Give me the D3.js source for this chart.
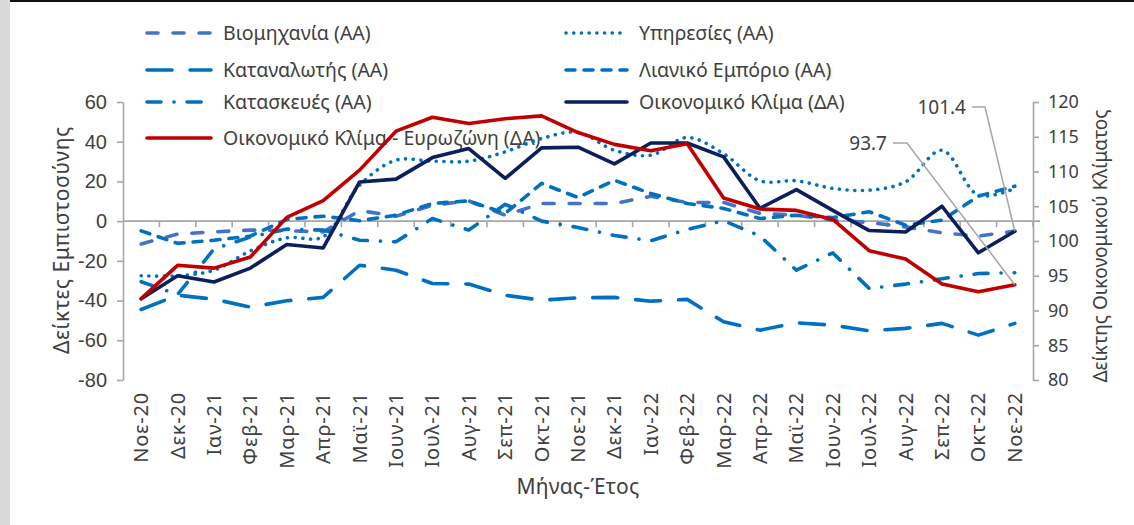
<!DOCTYPE html>
<html><head><meta charset="utf-8">
<script src="https://cdn.jsdelivr.net/npm/d3@7"></script>
<style>body{margin:0;background:#fff}svg{display:block}</style>
</head><body><svg id="c" width="1134" height="525"></svg>
<script>
const categories = ["Νοε-20","Δεκ-20","Ιαν-21","Φεβ-21","Μαρ-21","Απρ-21","Μαϊ-21","Ιουν-21","Ιουλ-21","Αυγ-21","Σεπ-21","Οκτ-21","Νοε-21","Δεκ-21","Ιαν-22","Φεβ-22","Μαρ-22","Απρ-22","Μαϊ-22","Ιουν-22","Ιουλ-22","Αυγ-22","Σεπ-22","Οκτ-22","Νοε-22"];
const industry     = [-11.5,-6.5,-5.4,-4.5,-4.8,-5.4,5.3,2.5,8,10.2,3,8.9,8.9,8.9,12.5,9.4,9.4,3.9,3,0.5,-0.7,-2.9,-5.9,-7.5,-5];
const services     = [-27.5,-27.5,-24.7,-15,-8.4,-7.9,18.1,30.7,30.2,30.2,34.9,41.6,44.7,35.7,33.2,42.1,34,20.3,20.3,16.5,15.6,19.8,35.7,13.1,16.5];
const consumer     = [-44.5,-37.3,-39.3,-43.3,-40.1,-38.4,-22.2,-24.7,-31.4,-31.7,-37.3,-39.8,-38.6,-38.4,-40.3,-39.4,-50.7,-54.9,-51.2,-52.4,-55.2,-54,-51.5,-57.4,-51.5];
const retail       = [-4.9,-11.2,-9.6,-7.5,0.9,2.5,0.2,3,8.9,10.2,3.9,19,11.9,20.6,13.9,8.9,6.4,1.3,3,1.8,4.7,-2,0.5,12.6,17.6];
const construction = [-30.5,-37,-14,-8,-4,-4.5,-9.6,-10.4,1.3,-4.5,8.5,0,-3.2,-7.2,-9.9,-4.2,0.2,-7.5,-24.7,-16,-33.9,-31.7,-29,-26.4,-26];
const climate      = [91.7,95.0,94.1,96.1,99.5,99.0,108.5,108.9,112.0,113.3,109.0,113.4,113.5,111.1,114.1,114.1,112.1,104.7,107.4,104.4,101.5,101.3,105.0,98.3,101.4];
const eurozone     = [91.7,96.5,96.1,97.7,103.4,105.8,110.2,115.8,117.8,116.9,117.6,118.0,115.6,113.9,113.0,114.0,106.2,104.6,104.4,103.1,98.6,97.4,93.8,92.7,93.7];
const seriesNames  = ["Βιομηχανία (ΑΑ)","Υπηρεσίες (ΑΑ)","Καταναλωτής (ΑΑ)","Λιανικό Εμπόριο (ΑΑ)","Κατασκευές (ΑΑ)","Οικονομικό Κλίμα (ΔΑ)","Οικονομικό Κλίμα - Ευρωζώνη (ΔΑ)"];
const leftTicks  = [60,40,20,0,-20,-40,-60,-80];
const rightTicks = [120,115,110,105,100,95,90,85,80];
const leftTitle = "Δείκτες Εμπιστοσύνης";
const rightTitle = "Δείκτης Οικονομικού Κλίματος";
const xTitle = "Μήνας-Έτος";

const W = 1134, H = 525;
const FONT = "'Noto Sans', sans-serif";
const TXT = "#404040";
const AXC = "#A6A6A6";
const svg = d3.select("#c");
svg.append("rect").attr("width", W).attr("height", H).attr("fill", "#fff");
svg.append("rect").attr("x", 0).attr("y", 0).attr("width", 10).attr("height", H).attr("fill", "#D9D9D9");
svg.append("rect").attr("x", 10).attr("y", 0).attr("width", W - 10).attr("height", 2).attr("fill", "#111");

const x = d3.scaleBand().domain(categories).range([123, 1033]);
const cx = c => x(c) + x.bandwidth() / 2;
const yL = d3.scaleLinear().domain([-80, 60]).range([380, 102]);
const yR = d3.scaleLinear().domain([80, 120]).range([380, 102]);

// Left axis
const gL = svg.append("g").attr("transform", "translate(123,0)")
  .call(d3.axisLeft(yL).tickValues(leftTicks).tickFormat(d => String(d)).tickSize(6).tickSizeOuter(0).tickPadding(10));
gL.select(".domain").attr("stroke", AXC).attr("stroke-width", 1.6);
gL.selectAll(".tick line").attr("stroke", AXC).attr("stroke-width", 1.6);
gL.selectAll(".tick text").attr("fill", TXT).style("font-family", "'Liberation Sans', Arial, sans-serif").style("font-size", "20px");

// Right axis
const gR = svg.append("g").attr("transform", "translate(1033,0)")
  .call(d3.axisRight(yR).tickValues(rightTicks).tickFormat(d => String(d)).tickSize(6).tickSizeOuter(0).tickPadding(9));
gR.select(".domain").attr("stroke", AXC).attr("stroke-width", 1.6);
gR.selectAll(".tick line").attr("stroke", AXC).attr("stroke-width", 1.6);
gR.selectAll(".tick text").attr("fill", TXT).style("font-family", FONT).style("font-size", "18px");

// Zero line with category boundary ticks
const y0 = yL(0);
svg.append("line").attr("x1", 123).attr("x2", 1040).attr("y1", y0).attr("y2", y0)
  .attr("stroke", AXC).attr("stroke-width", 1.6);
const bounds = categories.map(c => x(c)).concat([x.range()[1]]);
svg.append("g").selectAll("line").data(bounds.slice(1)).join("line")
  .attr("x1", d => d).attr("x2", d => d).attr("y1", y0).attr("y2", y0 + 6)
  .attr("stroke", AXC).attr("stroke-width", 1.6);

// Category labels
const gX = svg.append("g").attr("transform", "translate(0,392)")
  .call(d3.axisBottom(x).tickSize(0).tickPadding(0));
gX.select(".domain").remove();
gX.selectAll(".tick text").attr("fill", TXT).style("font-family", FONT).style("font-size", "20px")
  .style("letter-spacing", "0.8px")
  .attr("text-anchor", "end").attr("transform", "rotate(-90)").attr("x", 0).attr("y", 0).attr("dy", "0.35em");

// Axis titles
svg.append("text").attr("transform", "translate(62,240) rotate(-90)").attr("text-anchor", "middle")
  .attr("dy", "0.35em").attr("fill", TXT).style("font-family", FONT).style("font-size", "21px")
  .style("letter-spacing", "0.6px").text(leftTitle);
svg.append("text").attr("transform", "translate(1100,246) rotate(-90)").attr("text-anchor", "middle")
  .attr("dy", "0.35em").attr("fill", TXT).style("font-family", FONT).style("font-size", "19px").text(rightTitle);
svg.append("text").attr("x", 578).attr("y", 487).attr("text-anchor", "middle")
  .attr("dy", "0.35em").attr("fill", TXT).style("font-family", FONT).style("font-size", "21px")
  .style("letter-spacing", "0.3px").text(xTitle);

// Series styles
const BLUE = "#0070C0", LBLUE = "#4472C4", NAVY = "#0B1F5C", RED = "#C00000";
const series = [
  {name: seriesNames[0], data: industry, axis: yL, color: LBLUE, dash: "11,15", w: 3.6, curve: d3.curveLinear},
  {name: seriesNames[1], data: services, axis: yL, color: BLUE, dash: "0.1,7.6", w: 3.6, curve: d3.curveCatmullRom},
  {name: seriesNames[2], data: consumer, axis: yL, color: BLUE, dash: "25,18", w: 3.6, curve: d3.curveLinear},
  {name: seriesNames[3], data: retail, axis: yL, color: BLUE, dash: "9,9", w: 3.6, curve: d3.curveLinear},
  {name: seriesNames[4], data: construction, axis: yL, color: BLUE, dash: "14,13,0.1,13", w: 3.6, curve: d3.curveLinear},
  {name: seriesNames[5], data: climate, axis: yR, color: NAVY, dash: null, w: 3.6, curve: d3.curveLinear},
  {name: seriesNames[6], data: eurozone, axis: yR, color: RED, dash: null, w: 3.6, curve: d3.curveLinear}
];

// Legend (drawn beneath the lines)
const legendPos = [
  {x: 145, y: 33, len: 68}, {x: 564, y: 33, len: 65},
  {x: 145, y: 70, len: 68}, {x: 564, y: 70, len: 65},
  {x: 145, y: 102, len: 68}, {x: 564, y: 102, len: 65},
  {x: 145, y: 138, len: 68}
];
const gLeg = svg.append("g");
series.forEach((s, i) => {
  const p = legendPos[i];
  gLeg.append("line").attr("x1", p.x + 2).attr("x2", p.x + p.len - 2).attr("y1", p.y).attr("y2", p.y)
    .attr("stroke", s.color).attr("stroke-width", s.w).attr("stroke-linecap", "round")
    .attr("stroke-dasharray", s.dash);
  gLeg.append("text").attr("x", p.x + p.len + 10).attr("y", p.y).attr("dy", "0.35em")
    .attr("fill", TXT).style("font-family", FONT).style("font-size", "19.5px").text(s.name);
});

// Lines
series.forEach(s => {
  const line = d3.line().x((d, i) => cx(categories[i])).y(d => s.axis(d)).curve(s.curve);
  svg.append("path").datum(s.data).attr("d", line).attr("fill", "none")
    .attr("stroke", s.color).attr("stroke-width", s.w).attr("stroke-linecap", "round")
    .attr("stroke-linejoin", "round").attr("stroke-dasharray", s.dash);
});

// Annotations for last values
const last = categories[categories.length - 1];
const annots = [
  {v: climate[climate.length - 1], tx: 966, ty: 107, bx: 985},
  {v: eurozone[eurozone.length - 1], tx: 887, ty: 143, bx: 907}
];
annots.forEach(a => {
  svg.append("polyline")
    .attr("points", `${a.tx + 6},${a.ty} ${a.bx},${a.ty} ${cx(last)},${yR(a.v)}`)
    .attr("fill", "none").attr("stroke", AXC).attr("stroke-width", 1.5);
  svg.append("text").attr("x", a.tx).attr("y", a.ty).attr("dy", "0.35em").attr("text-anchor", "end")
    .attr("fill", TXT).style("font-family", FONT).style("font-size", "19px").text(d3.format(".1f")(a.v));
});
</script></body></html>
